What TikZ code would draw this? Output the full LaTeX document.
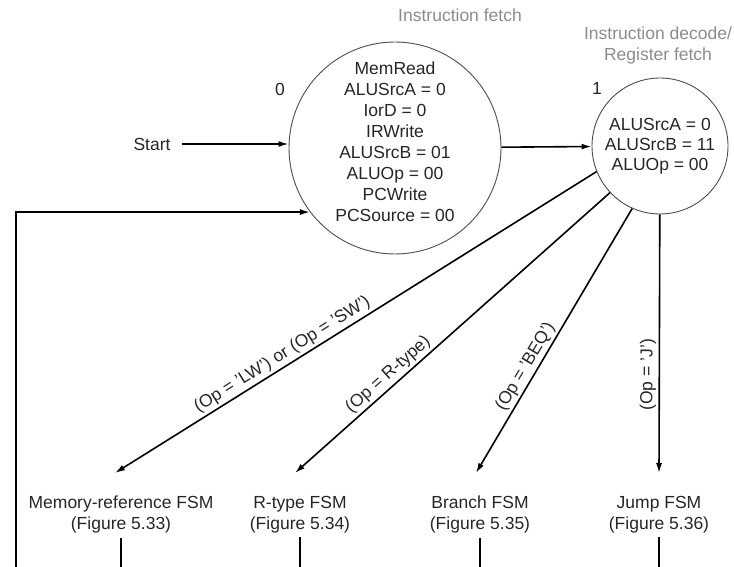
\documentclass[tikz,border=0pt]{standalone}
\usepackage{fontspec}
\setmainfont{Liberation Sans}
\usetikzlibrary{arrows.meta}
\begin{document}
\begin{tikzpicture}[x=1pt,y=-1pt,
  txt/.style={font=\fontsize{17.5}{21}\selectfont, text=black!85, inner sep=0pt},
  ttl/.style={txt, text=black!45, align=center},
  state/.style={circle, draw=black!70, line width=0.9pt, inner sep=0pt},
  arr/.style={line width=1.6pt, -{Latex[length=10pt,width=6pt]}},
  ln/.style={line width=1.6pt},
  fsm/.style={txt, align=center, anchor=north},
  cond/.style={txt, sloped, above, inner sep=3pt}]
\useasboundingbox (0,0) rectangle (734,567);
\coordinate (bot) at (0,567);
\coordinate (fb) at (16,567);

% titles
\node[ttl] (t0) at (460,15) {Instruction fetch};
\node[ttl] (t1) at (658,45) {Instruction decode/\\Register fetch};

% states
\node[state, minimum size=212pt] (c0) at (395,148) {};
\node[txt, align=center] (c0t) at (395,141.5) {MemRead\\ALUSrcA = 0\\IorD = 0\\IRWrite\\ALUSrcB = 01\\ALUOp = 00\\PCWrite\\PCSource = 00};
\node[state, minimum size=136pt, font=\fontsize{17.5}{20}\selectfont, text=black!85, align=center] (c1) at (660,146) {ALUSrcA = 0\\ALUSrcB = 11\\ALUOp = 00};
\node[txt] (n0) at (280,89) {0};
\node[txt] (n1) at (597,88) {1};

% start
\node[txt] (start) at (152,144) {Start};
\draw[arr] ([xshift=11pt]start.east) -- (start -| c0.west);
\draw[arr] (c0) -- (c1);

% target FSMs
\node[fsm] (mem) at (121,496) {Memory-reference FSM\\(Figure 5.33)};
\node[fsm] (rt) at (300,496) {R-type FSM\\(Figure 5.34)};
\node[fsm] (br) at (480,496) {Branch FSM\\(Figure 5.35)};
\node[fsm] (jp) at (659,496) {Jump FSM\\(Figure 5.36)};

% transitions
\draw[arr] (c1.202) -- ([xshift=-6pt,yshift=23pt]mem.north);
\draw[arr] (c1.223) -- ([xshift=-5pt,yshift=23pt]rt.north);
\draw[arr] (c1.246) -- ([xshift=-4pt,yshift=23pt]br.north);
\draw[arr] (c1) -- ([yshift=23pt]jp.north);

\path ([xshift=-6pt,yshift=23pt]mem.north) -- (c1.202) node[cond, pos=0.36] {(Op = 'LW') or (Op = 'SW')};
\path ([xshift=-5pt,yshift=23pt]rt.north) -- (c1.223) node[cond, pos=0.32] {(Op = R-type)};
\path ([xshift=-4pt,yshift=23pt]br.north) -- (c1.246) node[cond, pos=0.38] {(Op = 'BEQ')};
\path ([yshift=23pt]jp.north) -- (c1) node[cond, pos=0.38] {(Op = 'J')};

% outgoing lines and feedback
\draw[ln] ([yshift=-4pt]mem.south) -- (mem.south |- bot);
\draw[ln] ([yshift=-4pt]rt.south) -- (rt.south |- bot);
\draw[ln] ([yshift=-4pt]br.south) -- (br.south |- bot);
\draw[ln] ([yshift=-4pt]jp.south) -- (jp.south |- bot);
\draw[arr] (fb) |- (c0.217.7);
\end{tikzpicture}
\end{document}
